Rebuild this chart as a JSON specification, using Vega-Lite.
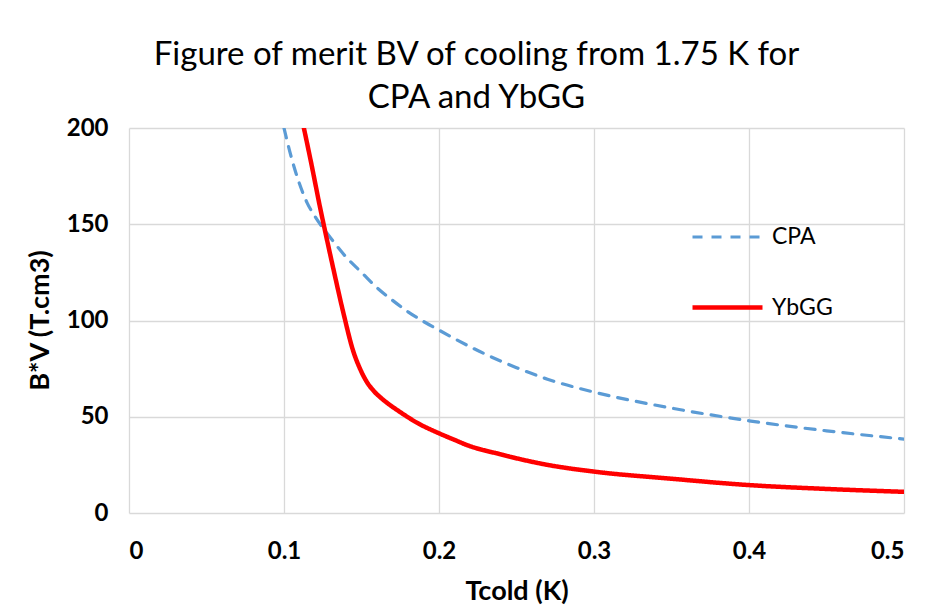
{
  "$schema": "https://vega.github.io/schema/vega-lite/v6.json",
  "width": 775,
  "height": 385,
  "autosize": {"type": "none"},
  "padding": {"left": 129, "top": 128, "right": 39, "bottom": 95},
  "background": "white",
  "title": {
    "text": ["Figure of merit BV of cooling from 1.75 K for", "CPA and YbGG"],
    "font": "Lato",
    "fontSize": 33,
    "fontWeight": "normal",
    "color": "#000000",
    "lineHeight": 43,
    "dx": -40,
    "offset": 1,
    "anchor": "middle"
  },
  "config": {
    "view": {"stroke": null},
    "font": "Lato",
    "axis": {
      "grid": true,
      "gridColor": "#d9d9d9",
      "gridWidth": 1.3,
      "ticks": false,
      "domain": false,
      "labelFont": "Lato",
      "labelFontSize": 24,
      "labelFontWeight": "bold",
      "labelColor": "#000000",
      "titleFont": "Lato",
      "titleFontSize": 27,
      "titleFontWeight": "bold",
      "titleColor": "#000000"
    },
    "legend": {
      "rowPadding": 21
    }
  },
  "data": {
    "values": [
      {"T": 0.100, "BV": 200, "series": "CPA"},
      {"T": 0.105, "BV": 184, "series": "CPA"},
      {"T": 0.110, "BV": 171, "series": "CPA"},
      {"T": 0.115, "BV": 161, "series": "CPA"},
      {"T": 0.120, "BV": 154, "series": "CPA"},
      {"T": 0.130, "BV": 143, "series": "CPA"},
      {"T": 0.140, "BV": 133, "series": "CPA"},
      {"T": 0.150, "BV": 125, "series": "CPA"},
      {"T": 0.160, "BV": 117, "series": "CPA"},
      {"T": 0.170, "BV": 110.5, "series": "CPA"},
      {"T": 0.180, "BV": 104.5, "series": "CPA"},
      {"T": 0.190, "BV": 99.5, "series": "CPA"},
      {"T": 0.200, "BV": 95, "series": "CPA"},
      {"T": 0.226, "BV": 84, "series": "CPA"},
      {"T": 0.250, "BV": 75.5, "series": "CPA"},
      {"T": 0.270, "BV": 69.5, "series": "CPA"},
      {"T": 0.300, "BV": 62.8, "series": "CPA"},
      {"T": 0.350, "BV": 54.5, "series": "CPA"},
      {"T": 0.400, "BV": 47.9, "series": "CPA"},
      {"T": 0.450, "BV": 42.7, "series": "CPA"},
      {"T": 0.500, "BV": 38.4, "series": "CPA"},
      {"T": 0.1115, "BV": 205, "series": "YbGG"},
      {"T": 0.118, "BV": 180, "series": "YbGG"},
      {"T": 0.1232, "BV": 159, "series": "YbGG"},
      {"T": 0.1265, "BV": 146.5, "series": "YbGG"},
      {"T": 0.1318, "BV": 127, "series": "YbGG"},
      {"T": 0.1383, "BV": 104, "series": "YbGG"},
      {"T": 0.1447, "BV": 84, "series": "YbGG"},
      {"T": 0.149, "BV": 75, "series": "YbGG"},
      {"T": 0.1535, "BV": 68, "series": "YbGG"},
      {"T": 0.158, "BV": 63.3, "series": "YbGG"},
      {"T": 0.163, "BV": 59.5, "series": "YbGG"},
      {"T": 0.168, "BV": 56.3, "series": "YbGG"},
      {"T": 0.173, "BV": 53.5, "series": "YbGG"},
      {"T": 0.186, "BV": 46.8, "series": "YbGG"},
      {"T": 0.200, "BV": 41.4, "series": "YbGG"},
      {"T": 0.210, "BV": 38, "series": "YbGG"},
      {"T": 0.218, "BV": 35.3, "series": "YbGG"},
      {"T": 0.239, "BV": 30.6, "series": "YbGG"},
      {"T": 0.270, "BV": 25, "series": "YbGG"},
      {"T": 0.300, "BV": 21.5, "series": "YbGG"},
      {"T": 0.350, "BV": 17.8, "series": "YbGG"},
      {"T": 0.400, "BV": 14.5, "series": "YbGG"},
      {"T": 0.450, "BV": 12.5, "series": "YbGG"},
      {"T": 0.500, "BV": 11, "series": "YbGG"}
    ]
  },
  "mark": {"type": "line", "interpolate": "monotone", "clip": true, "strokeCap": "round"},
  "encoding": {
    "x": {
      "field": "T",
      "type": "quantitative",
      "scale": {"domain": [0, 0.5], "nice": false},
      "axis": {
        "values": [0, 0.1, 0.2, 0.3, 0.4, 0.5],
        "format": ".1~f",
        "title": "Tcold (K)",
        "labelPadding": 26,
        "titleY": 86,
        "titleBaseline": "alphabetic"
      }
    },
    "y": {
      "field": "BV",
      "type": "quantitative",
      "scale": {"domain": [0, 200], "nice": false},
      "axis": {
        "values": [0, 50, 100, 150, 200],
        "title": "B*V (T.cm3)",
        "labelPadding": 21,
        "titleX": -89,
        "titleY": 192,
        "titleAngle": -90,
        "titleBaseline": "middle",
        "titleAlign": "center"
      }
    },
    "color": {
      "field": "series",
      "type": "nominal",
      "scale": {"domain": ["CPA", "YbGG"], "range": ["#5B9BD5", "#FF0000"]},
      "legend": {
        "title": null,
        "orient": "none",
        "legendX": 561,
        "legendY": 72,
        "padding": 0,
        "symbolType": "stroke",
        "symbolSize": 4900,
        "labelFont": "Lato",
        "labelFontSize": 23,
        "labelColor": "#000000",
        "labelOffset": 7,
        "rowPadding": 21
      }
    },
    "strokeDash": {
      "field": "series",
      "type": "nominal",
      "scale": {"domain": ["CPA", "YbGG"], "range": [[10, 9], [1, 0]]},
      "legend": {
        "title": null,
        "orient": "none",
        "legendX": 561,
        "legendY": 72,
        "padding": 0,
        "symbolType": "stroke",
        "symbolSize": 4900,
        "labelFont": "Lato",
        "labelFontSize": 23,
        "labelColor": "#000000",
        "labelOffset": 7,
        "rowPadding": 21
      }
    },
    "strokeWidth": {
      "field": "series",
      "type": "nominal",
      "scale": {"domain": ["CPA", "YbGG"], "range": [3.2, 4.5]},
      "legend": {
        "title": null,
        "orient": "none",
        "legendX": 561,
        "legendY": 72,
        "padding": 0,
        "symbolType": "stroke",
        "symbolSize": 4900,
        "labelFont": "Lato",
        "labelFontSize": 23,
        "labelColor": "#000000",
        "labelOffset": 7,
        "rowPadding": 21
      }
    }
  }
}
